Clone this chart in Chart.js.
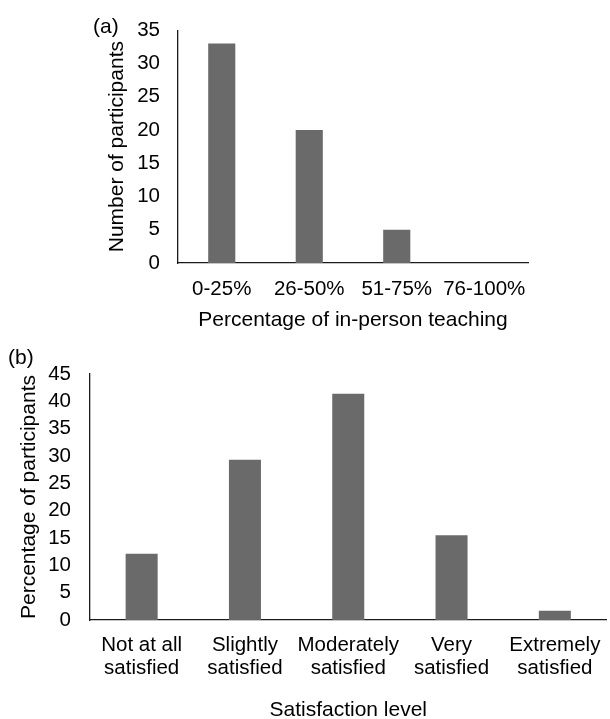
<!DOCTYPE html>
<html>
<head>
<meta charset="utf-8">
<script src="https://cdn.jsdelivr.net/npm/chart.js@4.4.1/dist/chart.umd.min.js"></script>
<style>
  html, body { margin: 0; padding: 0; background: #fff; overflow: hidden; width: 610px; height: 719px; }
  .wrap { position: absolute; left: 0; }
  #wrapA { top: 0; }
  #wrapB { top: 340px; }
  .tag { position: absolute; font-family: "Liberation Sans", Arial, sans-serif; font-size: 21px; line-height: 21px; color: #000; }
</style>
</head>
<body>
<div class="wrap" id="wrapA"><canvas id="chartA" width="610" height="340"></canvas></div>
<div class="wrap" id="wrapB"><canvas id="chartB" width="614" height="384"></canvas></div>
<div class="tag" style="left:93px;top:15px">(a)</div>
<div class="tag" style="left:8px;top:346px">(b)</div>
<script>
// (a) in-person teaching
const teachingLabels = ['0-25%', '26-50%', '51-75%', '76-100%'];
const teachingCounts = [33, 20, 5, 0];
const countTicks = [0, 5, 10, 15, 20, 25, 30, 35];

// (b) satisfaction
const satisfactionLabels = [
  ['Not at all', 'satisfied'],
  ['Slightly', 'satisfied'],
  ['Moderately', 'satisfied'],
  ['Very', 'satisfied'],
  ['Extremely', 'satisfied']
];
const satisfactionPct = [12.1, 29.3, 41.4, 15.5, 1.7];
const pctTicks = [0, 5, 10, 15, 20, 25, 30, 35, 40, 45];

const barColor = '#6a6a6a';
const axisColor = '#1a1a1a';

Chart.defaults.font.family = "'Liberation Sans', Arial, sans-serif";
Chart.defaults.color = '#000';

function axisBase() {
  return {
    grid: { display: false, drawTicks: false },
    border: { display: true, color: axisColor, width: 1.3 }
  };
}

new Chart(document.getElementById('chartA'), {
  type: 'bar',
  data: {
    labels: teachingLabels,
    datasets: [{ data: teachingCounts, backgroundColor: barColor, barPercentage: 0.31, categoryPercentage: 1 }]
  },
  options: {
    responsive: false,
    animation: false,
    layout: { padding: { left: 0, top: 27, right: 82, bottom: 0 } },
    plugins: { legend: { display: false }, tooltip: { enabled: false } },
    scales: {
      x: {
        ...axisBase(),
        ticks: { font: { size: 20.5 }, padding: 13.7, maxRotation: 0, autoSkip: false },
        title: { display: true, text: 'Percentage of in-person teaching', font: { size: 21 }, padding: { top: 0, bottom: 7.4 } },
        afterFit: s => { s.height = 77; }
      },
      y: {
        ...axisBase(),
        min: countTicks[0],
        max: countTicks[countTicks.length - 1],
        afterBuildTicks: s => { s.ticks = countTicks.map(v => ({ value: v })); },
        ticks: { font: { size: 20.5 }, padding: 18, autoSkip: false },
        title: { display: true, text: 'Number of participants', font: { size: 21 }, padding: { top: 104.4, bottom: 0 } },
        afterFit: s => { s.width = 178; }
      }
    }
  }
});

new Chart(document.getElementById('chartB'), {
  type: 'bar',
  data: {
    labels: satisfactionLabels,
    datasets: [{ data: satisfactionPct, backgroundColor: barColor, barPercentage: 0.31, categoryPercentage: 1 }]
  },
  options: {
    responsive: false,
    animation: false,
    layout: { padding: { left: 0, top: 34, right: 1, bottom: 0 } },
    plugins: { legend: { display: false }, tooltip: { enabled: false } },
    scales: {
      x: {
        ...axisBase(),
        ticks: { font: { size: 20.5, lineHeight: 1.12 }, padding: 13.5, maxRotation: 0, autoSkip: false },
        title: { display: true, text: 'Satisfaction level', font: { size: 21 }, padding: { top: 0, bottom: 1.4 } },
        afterFit: s => { s.height = 104; }
      },
      y: {
        ...axisBase(),
        min: pctTicks[0],
        max: pctTicks[pctTicks.length - 1],
        afterBuildTicks: s => { s.ticks = pctTicks.map(v => ({ value: v })); },
        ticks: { font: { size: 20.5 }, padding: 19, autoSkip: false },
        title: { display: true, text: 'Percentage of participants', font: { size: 21 }, padding: { top: 16.4, bottom: 0 } },
        afterFit: s => { s.width = 90; }
      }
    }
  }
});
</script>
</body>
</html>
